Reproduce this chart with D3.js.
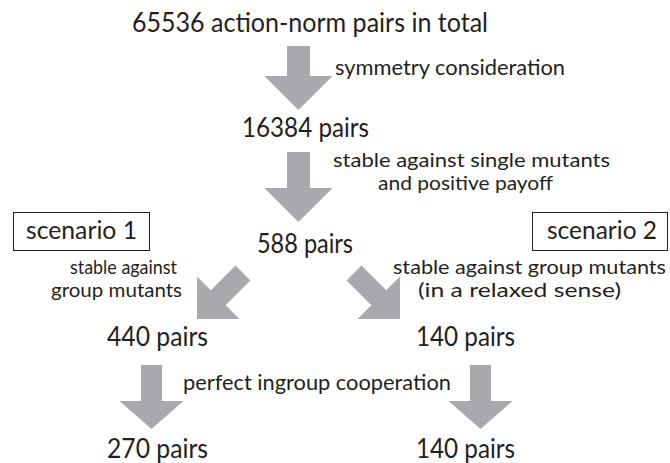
<!DOCTYPE html>
<html>
<head>
<meta charset="utf-8">
<script src="https://cdn.jsdelivr.net/npm/d3@7"></script>
<style>
  html, body { margin: 0; padding: 0; background: #fff; }
  svg { display: block; }
  text { font-family: Lato, "Open Sans", sans-serif; fill: #231f20; }
</style>
</head>
<body>
<svg id="chart" width="670" height="463"></svg>
<script>
// ---- data ----
const pairCounts = [65536, 16384, 588, 440, 140, 270, 140];
const nodeLabels = [
  "65536 action-norm pairs in total",
  "16384 pairs",
  "588 pairs",
  "440 pairs",
  "140 pairs",
  "270 pairs",
  "140 pairs"
];
const scenarioLabels = ["scenario 1", "scenario 2"];
const stepLabels = [
  ["symmetry consideration"],
  ["stable against single mutants", "and positive payoff"],
  ["stable against", "group mutants"],
  ["stable against group mutants", "(in a relaxed sense)"],
  ["perfect ingroup cooperation"]
];
// edges: from node -> to node
const edges = [[0,1],[1,2],[2,3],[2,4],[3,5],[4,6]];

// ---- layout (positions only) ----
const W = 670, H = 463;
const svg = d3.select("#chart");
const ink = "#231f20", arrowFill = "#a7a9ac";

// node text boxes: [x0, x1, baseline, size]
const nodePos = [
  [132, 488, 32, 26],
  [242, 369, 137, 26],
  [257, 353, 253, 26],
  [107, 208, 346, 26],
  [416, 515, 346, 26],
  [107, 208, 458, 26],
  [416, 515, 458, 26]
];
const stepPos = [
  [[335, 565, 75, 21]],
  [[333, 610, 167, 20], [378, 553, 190, 20]],
  [[70, 177, 274, 19], [51, 182, 297, 19]],
  [[393, 666, 274, 19], [418, 621, 297, 19]],
  [[183, 451, 390, 21]]
];
const scenPos = [
  {box: [13, 212, 136, 38], text: [26, 137, 239, 25]},
  {box: [532, 212, 135, 38], text: [547, 657, 239, 25]}
];
// arrows: tip x, tip y, length, angle (deg, 0 = down), shaft w, head w, head len
const arrowPos = [
  [298.5, 110, 64, 0, 23, 68, 34],
  [298.5, 222, 70, 0, 23, 68, 34],
  [197, 319, 65, 45, 21, 60, 30],
  [400, 319, 65, -45, 21, 60, 30],
  [151.5, 429, 64, 0, 21, 64, 28],
  [480.5, 429, 64, 0, 21, 64, 28]
];

function fitText(g, str, p) {
  const [x0, x1, y, size] = p;
  g.append("text")
    .attr("x", x0).attr("y", y)
    .attr("font-size", size)
    .attr("textLength", x1 - x0)
    .attr("lengthAdjust", "spacingAndGlyphs")
    .text(str);
}

// arrows, drawn through a line generator in a local frame (tip at origin, pointing down)
const line = d3.line();
const gArrows = svg.append("g");
edges.forEach((e, i) => {
  const [tx, ty, L, ang, sw, hw, hl] = arrowPos[i];
  const pts = [
    [-sw/2, -L], [sw/2, -L], [sw/2, -hl], [hw/2, -hl],
    [0, 0], [-hw/2, -hl], [-sw/2, -hl]
  ];
  gArrows.append("path")
    .attr("d", line(pts) + "Z")
    .attr("fill", arrowFill)
    .attr("transform", `translate(${tx},${ty}) rotate(${ang})`);
});

// node labels
const gNodes = svg.append("g");
nodeLabels.forEach((s, i) => fitText(gNodes, s, nodePos[i]));

// step labels
const gSteps = svg.append("g");
stepLabels.forEach((lines, i) => lines.forEach((s, j) => fitText(gSteps, s, stepPos[i][j])));

// scenario boxes
const gScen = svg.append("g");
scenarioLabels.forEach((s, i) => {
  const b = scenPos[i].box;
  gScen.append("rect")
    .attr("x", b[0] + 0.5).attr("y", b[1] + 0.5)
    .attr("width", b[2]).attr("height", b[3])
    .attr("fill", "none").attr("stroke", ink).attr("stroke-width", 1);
  fitText(gScen, s, scenPos[i].text);
});
</script>
</body>
</html>
